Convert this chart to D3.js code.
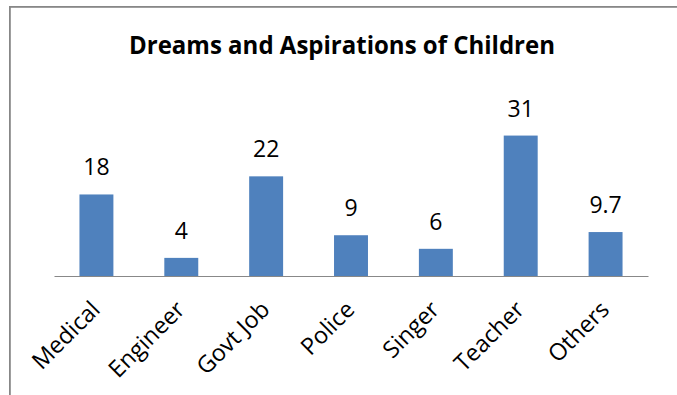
<!DOCTYPE html>
<html>
<head>
<meta charset="utf-8">
<script src="https://cdn.jsdelivr.net/npm/d3@7/dist/d3.min.js"></script>
<style>
  html, body { margin: 0; padding: 0; background: #ffffff; }
  svg { display: block; }
  text { font-family: "Open Sans", "Noto Sans", sans-serif; fill: #000; }
</style>
</head>
<body>
<script>
// Survey results: what the children want to become
const categories = ["Medical", "Engineer", "Govt Job", "Police", "Singer", "Teacher", "Others"];
const values = [18, 4, 22, 9, 6, 31, 9.7];
const valueLabels = ["18", "4", "22", "9", "6", "31", "9.7"];
const chartTitle = "Dreams and Aspirations of Children";

const W = 677, H = 395;
const svg = d3.select("body").append("svg")
  .attr("width", W)
  .attr("height", H);

// Chart frame (extends past the right and bottom edges)
svg.append("rect")
  .attr("x", 9.9).attr("y", 6.9)
  .attr("width", 800).attr("height", 500)
  .attr("fill", "#ffffff")
  .attr("stroke", "#878787")
  .attr("stroke-width", 1.8);

// Title
svg.append("text")
  .attr("x", 342).attr("y", 54)
  .attr("text-anchor", "middle")
  .attr("font-size", 24.5)
  .attr("font-weight", "bold")
  .attr("textLength", 426)
  .attr("lengthAdjust", "spacingAndGlyphs")
  .text(chartTitle);

const axisY = 276;
const x = d3.scaleBand()
  .domain(categories)
  .range([54, 648])
  .paddingInner(0.6)
  .paddingOuter(0.3);

const y = d3.scaleLinear()
  .domain([0, 35])
  .range([axisY, axisY - 35 * 4.53]);

// Bars
svg.append("g").selectAll("rect")
  .data(values)
  .join("rect")
  .attr("x", (d, i) => x(categories[i]))
  .attr("y", d => y(d))
  .attr("width", x.bandwidth())
  .attr("height", d => y(0) - y(d))
  .attr("fill", "#4F81BD");

// Category axis line (no ticks)
const xAxis = d3.axisBottom(x).tickSize(0).tickFormat("");
const gx = svg.append("g")
  .attr("transform", `translate(0,${axisY})`)
  .call(xAxis);
gx.select(".domain")
  .attr("stroke", "#888888")
  .attr("stroke-width", 1.2);

// Rotated category labels
svg.append("g").selectAll("text")
  .data(categories)
  .join("text")
  .attr("text-anchor", "end")
  .attr("font-size", 23.4)
  .attr("transform", d => `translate(${x(d) + x.bandwidth() / 2 + 5},${axisY + 35}) rotate(-45)`)
  .text(d => d);

// Value labels above bars
svg.append("g").selectAll("text")
  .data(values)
  .join("text")
  .attr("x", (d, i) => x(categories[i]) + x.bandwidth() / 2)
  .attr("y", d => y(d) - 19)
  .attr("text-anchor", "middle")
  .attr("font-size", 23)
  .text((d, i) => valueLabels[i]);
</script>
</body>
</html>
